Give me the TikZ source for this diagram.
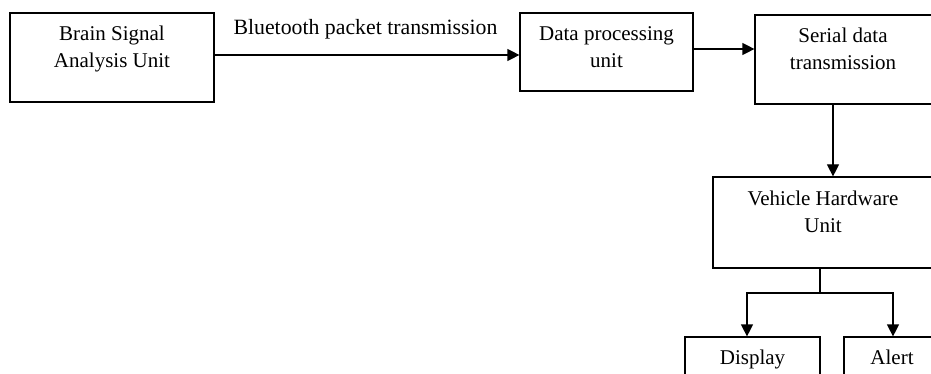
\documentclass[tikz,border=0pt]{standalone}
\usepackage{fontspec}
\setmainfont{Liberation Serif}
\usetikzlibrary{arrows.meta}
\tikzset{
  box/.style={draw, line width=1.2pt, rectangle, inner sep=0pt},
  txt/.style={align=center, inner sep=0pt, anchor=north, font=\fontsize{21}{27}\selectfont},
  lbl/.style={inner sep=0pt, anchor=base, font=\fontsize{21.8}{27}\selectfont},
  conn/.style={line width=1.2pt},
  arr/.style={line width=1.2pt, -{Triangle[length=12pt,width=12pt]}}
}
\begin{document}
\begin{tikzpicture}[x=1pt,y=-1pt]
\useasboundingbox[fill=white] (0,0) rectangle (931,374);
\begin{scope}
\clip (0,0) rectangle (931,374);
\node[box, minimum width=204pt, minimum height=89pt] (brain) at (112,57.5) {};
\node[box, minimum width=173pt, minimum height=78pt] (dp) at (606.5,52) {};
\node[box, minimum width=178pt, minimum height=89pt] (serial) at (844,59.5) {};
\node[box, minimum width=220pt, minimum height=91pt] (veh) at (823,222.5) {};
\node[box, minimum width=135pt, minimum height=63pt] (disp) at (752.5,368.5) {};
\node[box, minimum width=96pt, minimum height=63pt] (alert) at (892,368.5) {};

\node[txt] (brainT) at ([yshift=-13.5pt]brain.north) {Brain Signal\\Analysis Unit};
\node[txt] (dpT) at ([yshift=-13.5pt]dp.north) {Data processing\\unit};
\node[txt] (serialT) at ([yshift=-13.5pt,xshift=-1pt]serial.north) {Serial data\\transmission};
\node[txt] (vehT) at ([yshift=-14pt]veh.north) {Vehicle Hardware\\Unit};
\node[txt] (dispT) at ([yshift=-13.5pt]disp.north) {Display};
\node[txt] (alertT) at ([yshift=-13.5pt]alert.north) {Alert};

\node[lbl] (bt) at (365.5,35) {Bluetooth packet transmission};

\draw[arr] ([yshift=2.5pt]brain.east) coordinate (a1) -- (a1 -| dp.west);
\draw[arr] ([yshift=3pt]dp.east) coordinate (a2) -- (a2 -| serial.west);
\draw[arr] ([xshift=-11pt]serial.south) coordinate (a3) -- (a3 |- veh.north);
\coordinate (split) at (820,293);
\draw[conn] (split |- veh.south) -- (split);
\draw[arr] (split) -| ([xshift=-5.5pt]disp.north);
\draw[arr] (split) -| ([xshift=1pt]alert.north);
\end{scope}
\end{tikzpicture}
\end{document}
